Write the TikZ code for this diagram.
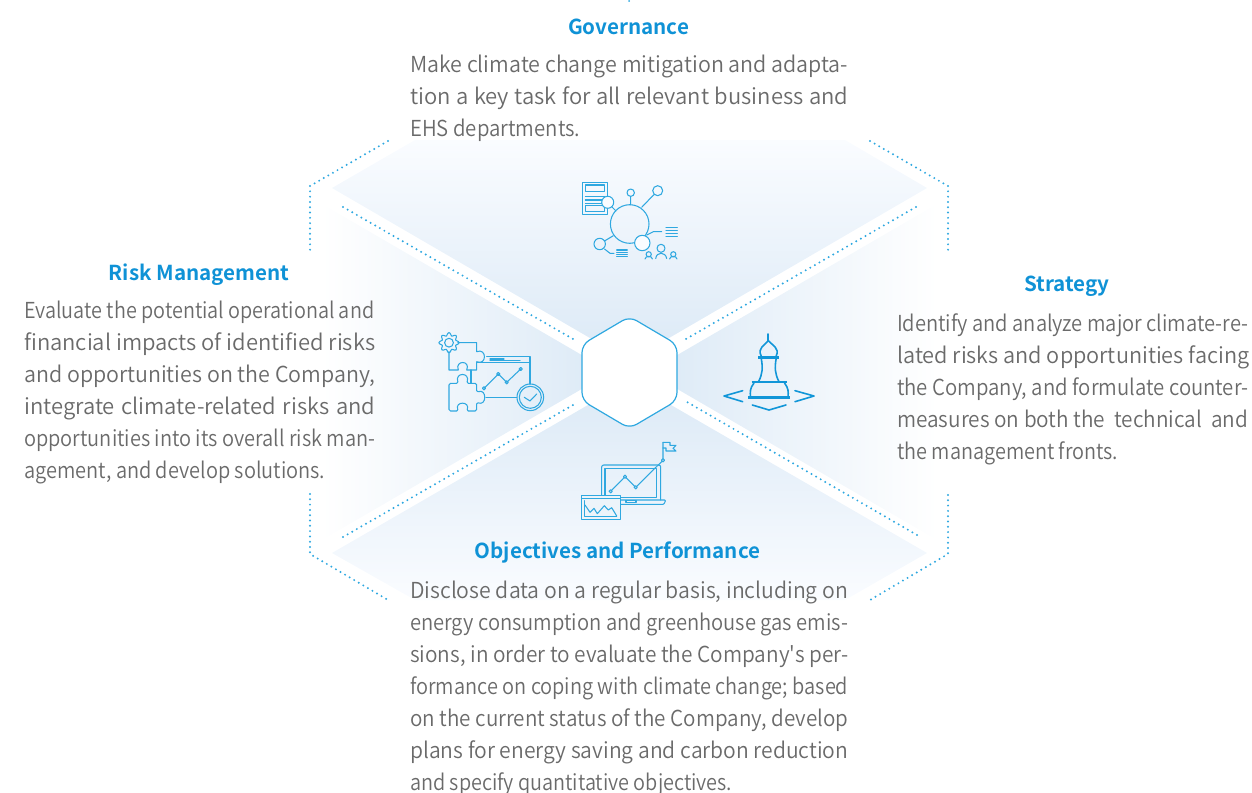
\documentclass[tikz,border=0pt]{standalone}
\usepackage{fontspec}
\usepackage{graphicx}
\setmainfont{Noto Sans CJK SC DemiLight}[BoldFont={Noto Sans CJK SC Bold}]
\newfontfamily\plainf{Noto Sans CJK SC DemiLight}
\definecolor{ttl}{HTML}{0F92D6}
\definecolor{bodyc}{HTML}{6A6A6A}
\definecolor{ico}{HTML}{2FA8E0}
\definecolor{icod}{HTML}{1196D8}
\definecolor{dk}{HTML}{DBE9F6}
\definecolor{lt}{HTML}{FAFCFF}
\newcommand{\jl}[2]{\setbox0=\hbox{#2}\ifdim\wd0>#1pt\resizebox{#1pt}{\ht0}{#2}\else\makebox[#1pt][s]{#2}\fi}
\tikzset{
  dots/.style={line width=2.2pt,color=ico,line cap=round,dash pattern=on 0pt off 5.3pt},
  icon/.style={draw=ico,line width=1.05pt,line join=round,line cap=round},
  iconb/.style={draw=icod,line width=1.6pt,line join=round,line cap=round},
  thick bar/.style={draw=icod,line width=2.4pt},
  title/.style={text=ttl,font=\fontsize{20.6}{26}\selectfont\bfseries,inner sep=0pt},
  bodytext/.style={text=bodyc,font=\fontsize{22}{32}\selectfont,anchor=north west,inner sep=0pt,align=left},
}
\begin{document}
\begin{tikzpicture}[x=1pt,y=-1pt]
\useasboundingbox (0,0) rectangle (1252,792);
% wedges
\shade[top color=lt,bottom color=dk] (332,188)--(415,140)--(845,140)--(927,188)--(629.5,361)--cycle;
\shade[top color=dk,bottom color=lt] (332,553)--(415,600)--(845,600)--(927,553)--(629.5,381)--cycle;
\shade[left color=white,right color=dk] (611,372)--(322,204)--(322,540)--cycle;
\shade[left color=dk,right color=white] (648,372)--(937,204)--(937,540)--cycle;
% dotted lines
\draw[dots] (343,207)--(573,339);
\draw[dots] (916,207)--(686,339);
\draw[dots] (343,537)--(573,405);
\draw[dots] (917,535)--(687,402);
\draw[dots] (388,141)--(310,186)--(310,252);
\draw[dots] (870,141)--(948,186)--(948,252);
\draw[dots] (310,494)--(310,554)--(388,600);
\draw[dots] (948,495)--(948,554)--(870,600);
\fill[ico] (629,1) circle (1pt);
% hexagon
\draw[draw=ico,line width=1.2pt,fill=white,rounded corners=8pt] (629.5,316.5)--(677,344.5)--(677,400.5)--(629.5,428.5)--(582,400.5)--(582,344.5)--cycle;
% governance icon
\draw[icon,line width=1.3pt] (582.3,182.3) rectangle (607.7,214.3);
\draw[icon] (585.3,185) rectangle (604.7,191.7) (585.3,205.7) rectangle (604.7,211.7);
\draw[icon] (585.3,196.7)--(604.7,196.7) (585.3,200)--(604.7,200) (585.3,203.3)--(604.7,203.3);
\draw[icon] (612,207)--(616,211);
\draw[icon,fill=lt] (607.7,202.3) circle (6);
\draw[icon] (629.7,224) circle (19.3);
\draw[icon] (630.7,192.7) circle (3.7) (630.7,196.4)--(630.7,204.7);
\draw[icon] (657.7,190.7) circle (5) (654,194.5)--(641.7,207.3);
\draw[icon,fill=lt] (642.3,243) circle (7.7);
\draw[icon] (599.7,244) circle (5.7) (604.5,241)--(613.3,235.7);
\draw[icon] (604.5,249)--(610,253.3)--(614,253.3);
\draw[icon] (616.7,250)--(627.3,250) (616.7,252.3)--(627.3,252.3) (616.7,254.4)--(627.3,254.4) (616.7,256.5)--(627.3,256.5);
\draw[icon] (646.7,235)--(653.3,231.7)--(661.7,231.7);
\draw[icon] (666,227.3)--(677.3,227.3) (666,230.2)--(677.3,230.2) (666,233.2)--(677.3,233.2) (666,236.2)--(677.3,236.2);
\draw[icon] (661,248.3) circle (4);
\draw[icon] (655.7,258.5) .. controls (656.5,251.5) and (665.5,251.5) .. (666.7,258.5);
\draw[icon] (648.7,254.3) circle (2.6) (673.3,254.3) circle (2.6);
\draw[icon] (645,259) .. controls (645.5,255.5) and (652,255.5) .. (652.4,259);
\draw[icon] (669.6,259) .. controls (670,255.5) and (676.5,255.5) .. (677,259);
% risk icon
\draw[icon] plot[smooth cycle,samples=48,domain=0:352.5] ({449+(8.6+1.5*cos(8*\x))*cos(\x)},{342.7+(8.6+1.5*cos(8*\x))*sin(\x)});
\draw[icon] (449,342.7) circle (4.4);
\draw[icon] (457.8,342.7)--(476.7,342.7)--(476.7,351.7) .. controls (487,347.5) and (487,366) .. (476.7,361.7)--(476.7,370)--(466.7,370) .. controls (471,360) and (454.5,360) .. (458.3,370)--(449,370)--(449,351.7);
\draw[icon,rounded corners=1.5pt] (466.7,383.3) .. controls (470.5,372) and (454.5,372) .. (458.3,383.3)--(449,383.3)--(449,411)--(458.3,411) .. controls (454.5,401) and (470.5,401) .. (466.7,411)--(476.7,411)--(476.7,402.3) .. controls (487,406.5) and (487,388) .. (476.7,392.3)--(476.7,383.3)--cycle;
\draw[icon] (471,370)--(471,383.3);
\draw[icon] (486.7,356.7)--(530,356.7)--(530,384);
\draw[icon] (476.7,362.7)--(530,362.7);
\draw[icon] (490,359)--(504,359) (490,360.7)--(520,360.7);
\draw[icon] (484,388.3)--(498.3,374)--(506.7,382.3)--(520.7,369);
\foreach \p in {(484,388.3),(498.3,374),(506.7,382.3),(520.7,369)} \draw[icon] \p circle (1.6);
\draw[icon] (486,397.3)--(516.7,397.3);
\draw[icon] (530.3,397.3) circle (13.3) (530.3,397.3) circle (11);
\draw[icon] (524.3,397.3)--(530,401)--(536.7,394);
% strategy icon
\draw[iconb,line width=1.8pt] (768.3,334)--(768.3,340.7);
\draw[iconb] (761.2,356) .. controls (757,348) and (765,345) .. (768.3,340.7) .. controls (772,345) and (780,348) .. (776.2,356);
\draw[thick bar] (758.3,357.3)--(779.3,357.3);
\draw[iconb] (761.2,358.3) .. controls (763,368) and (762.5,374) .. (758.5,381.7);
\draw[iconb] (776.2,358.3) .. controls (774.5,368) and (775,374) .. (779,381.7);
\draw[thick bar] (751.7,382)--(786.7,382);
\draw[iconb] (754,383) .. controls (750,388) and (750,392) .. (750.5,396.7);
\draw[iconb] (784.5,383) .. controls (788.5,388) and (788.5,392) .. (788,396.7);
\draw[thick bar] (748.3,397.3)--(790,397.3);
\draw[iconb] (742.7,390.7)--(724,396)--(742.7,401.7);
\draw[iconb] (795,390.7)--(814,396)--(795,401.7);
\draw[iconb] (752.3,405)--(769,410)--(786,405);
% objectives icon
\draw[icon,rounded corners=2pt] (601.7,498.3)--(601.7,465)--(660.7,465)--(660.7,500);
\draw[icon] (605,468.3) rectangle (656.7,497.3);
\draw[icon,rounded corners=1pt] (620,500)--(665.7,500)--(664,504.3)--(620,504.3);
\draw[icon] (626,500.7) rectangle (636,502.7);
\draw[icon] (610.7,491.3)--(625,476.7)--(635.7,487.3)--(663,460.3)--(663,442.3);
\foreach \p in {(610.7,491.3),(625,476.7),(635.7,487.3),(663,460.3)} \draw[icon,fill=dk] \p circle (1.6);
\draw[icon] (663,442.3)--(670,442.3)--(670,445.3)--(676,445.3)--(673,448.3)--(676,451)--(666,451)--(666,448)--(663,448);
\draw[icon,line width=1.2pt,fill=dk!50] (581.7,495.3) rectangle (620.3,519.3);
\draw[icon] (581.7,498.3)--(620.3,498.3);
\draw[icon] (584.3,500.7)--(584.3,516.7)--(616.7,516.7);
\draw[icon] (585,505)--(590,512.3)--(594,508.3)--(597.3,513.7)--(604.3,505.7)--(608.3,510)--(611.7,507.7)--(616.7,516);
% text
\node[title] (tgov) at (628.5,27) {Governance};
\node[title] (trisk) at (199,275) {Risk Management};
\node[title] (tstr) at (1067,286) {Strategy};
\node[title] (tobj) at (617.5,552) {Objectives and Performance};
\node[bodytext] (bgov) at (410,55) {\jl{438}{Make climate change mitigation and adapta-}\\\jl{438}{tion a key task for all relevant business and}\\\jl{170}{EHS departments.}};
\node[bodytext] (brisk) at (24,301) {\jl{350}{Evaluate the potential operational and}\\\jl{351}{financial impacts of identified risks}\\\jl{351}{and opportunities on the Company,}\\\jl{351}{integrate climate-related risks and}\\\jl{351}{opportunities into its overall risk man-}\\\jl{301}{agement, and develop solutions.}};
\node[bodytext] (bstr) at (897,313) {\jl{351}{Identify and analyze major climate-re-}\\\jl{352}{lated risks and opportunities facing}\\\jl{351}{the Company, and formulate counter-}\\\jl{351}{measures on both the\ \ technical\ \ and}\\\jl{221}{the management fronts.}};
\node[bodytext] (bobj) at (410,581) {\jl{438}{Disclose data on a regular basis, including on}\\\jl{438}{energy consumption and greenhouse gas emis-}\\\jl{438}{sions, in order to evaluate the Company{\plainf '}s per-}\\\jl{438}{formance on coping with climate change; based}\\\jl{438}{on the current status of the Company, develop}\\\jl{438}{plans for energy saving and carbon reduction}\\\jl{322}{and specify quantitative objectives.}};
\end{tikzpicture}
\end{document}
